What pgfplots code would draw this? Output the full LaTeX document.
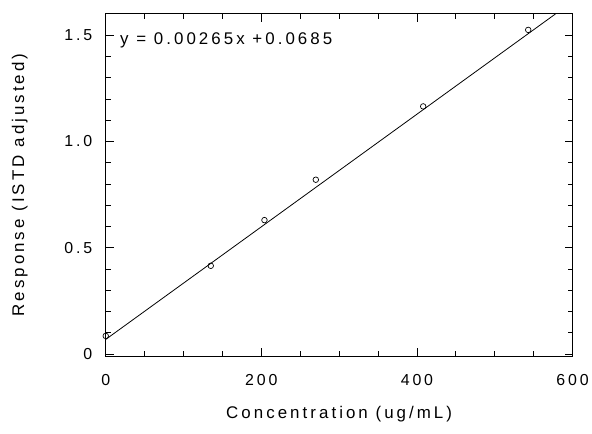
\documentclass[border=0pt]{standalone}
\usepackage{pgfplots}
\pgfplotsset{compat=1.18}
\usepackage{fontspec}
\setmainfont{Liberation Sans}[LetterSpace=18]
\begin{document}
\begin{tikzpicture}
\begin{axis}[name=ax, scale only axis, width=468bp, height=343bp,
  xmin=0, xmax=600, ymin=-0.01, ymax=1.6,
  xtick={0,200,400,600}, minor x tick num=3,
  ytick={0,0.5,1,1.5}, yticklabels={0,0.5,1.0,1.5}, minor y tick num=4,
  tick align=inside, major tick length=8bp, minor tick length=5bp,
  tick style={black, line width=0.8pt},
  axis line style={line width=1pt},
  ticklabel style={font=\fontsize{16}{19}\selectfont},
  xticklabel style={yshift=-15bp},
  yticklabel style={xshift=-10bp},
  /pgf/number format/assume math mode=true,
  xlabel={Concentration (ug/mL)}, ylabel={Response (ISTD adjusted)},
  label style={font=\fontsize{17}{20}\selectfont},
  xlabel style={yshift=-14bp},
  ylabel style={yshift=30bp},
]
\addplot[black, line width=0.8pt] coordinates {(0,0.0685) (578,1.6)};
\addplot[only marks, mark=o, mark size=2.8pt, mark options={black, line width=0.7pt}] coordinates {
(0,0.085) (135,0.415) (204,0.63) (270,0.82) (408,1.165) (543,1.525)};
\node[anchor=west, font=\fontsize{17}{20}\selectfont] at (axis cs:14,1.478) {y = 0.00265x +0.0685};
\end{axis}
\path ([shift={(-106bp,-78bp)}]ax.south west) rectangle ([shift={(18bp,14bp)}]ax.north east);
\end{tikzpicture}
\end{document}
